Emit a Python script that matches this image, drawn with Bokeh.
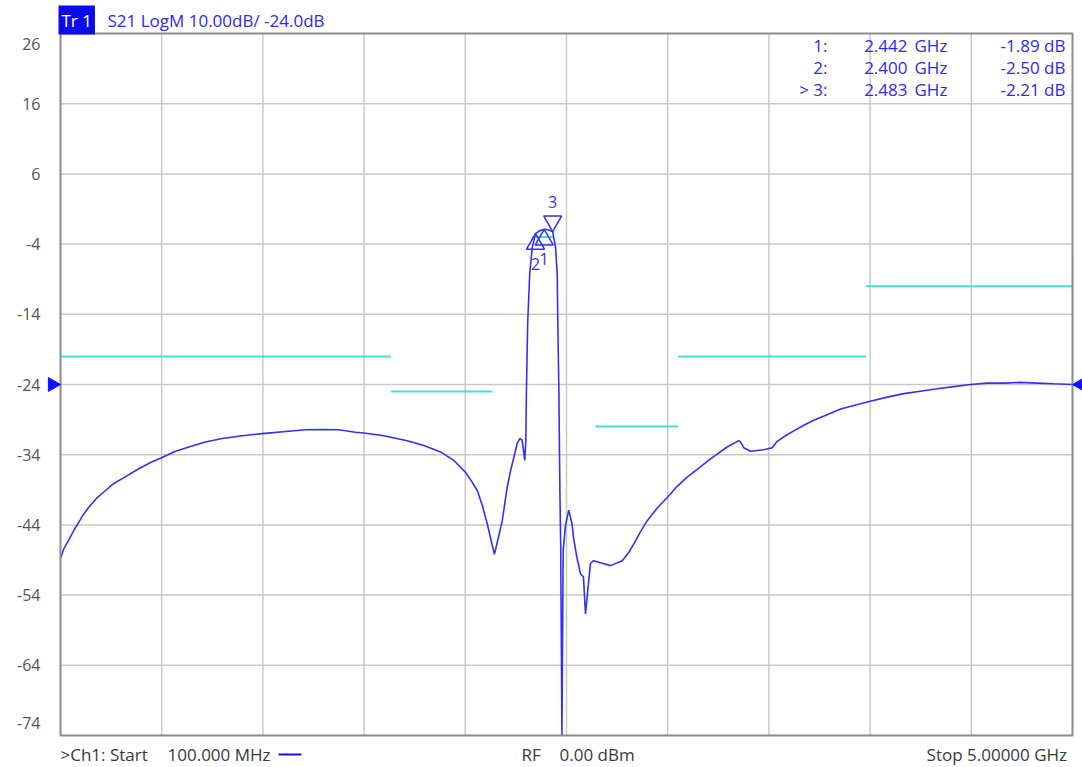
import math
from bokeh.plotting import figure
from bokeh.models import Label, BoxAnnotation, ColumnDataSource
from bokeh.embed import file_html
from bokeh.resources import INLINE
from bokeh.core.properties import value

# ---------------- data ----------------
start_ghz = 0.1
stop_ghz = 5.0
ref_db = -24.0
scale_db = 10.0

freq_ghz = [
    0.100, 0.116, 0.139, 0.164, 0.189, 0.213, 0.237, 0.278, 0.318, 0.358,
    0.399, 0.479, 0.536, 0.592, 0.657, 0.721, 0.802, 0.883, 0.980, 1.077,
    1.205, 1.286, 1.367, 1.448, 1.528, 1.569, 1.666, 1.779, 1.859, 1.940,
    2.004, 2.061, 2.093, 2.118, 2.142, 2.166, 2.185, 2.201, 2.217, 2.239,
    2.263, 2.279, 2.295, 2.311, 2.324, 2.335, 2.348, 2.353, 2.356, 2.362,
    2.372, 2.384, 2.400, 2.420, 2.442, 2.460, 2.483, 2.497, 2.505, 2.508,
    2.513, 2.518, 2.522, 2.528, 2.534, 2.545, 2.561, 2.577, 2.584, 2.600,
    2.618, 2.632, 2.642, 2.653, 2.666, 2.681, 2.715, 2.763, 2.820, 2.852,
    2.876, 2.908, 2.941, 2.989, 3.038, 3.086, 3.134, 3.191, 3.247, 3.328,
    3.384, 3.393, 3.408, 3.441, 3.505, 3.546, 3.570, 3.610, 3.651, 3.699,
    3.747, 3.812, 3.877, 4.006, 4.103, 4.183, 4.264, 4.345, 4.425, 4.506,
    4.587, 4.667, 4.748, 4.829, 4.910, 5.000,
]
s21_db = [
    -48.8, -47.4, -46.2, -44.8, -43.6, -42.4, -41.5, -40.1, -39.1, -38.1,
    -37.4, -36.0, -35.1, -34.4, -33.5, -32.9, -32.2, -31.7, -31.3, -31.0,
    -30.65, -30.45, -30.4, -30.45, -30.8, -30.9, -31.3, -32.0, -32.7, -33.6,
    -34.8, -36.5, -37.9, -39.1, -41.2, -43.8, -46.2, -48.2, -46.2, -43.4,
    -38.6, -36.3, -34.4, -32.4, -31.7, -31.9, -34.8, -32.0, -24.9, -15.3,
    -8.2, -4.5, -2.50, -2.1, -1.89, -1.95, -2.21, -4.5, -8.2, -15.3,
    -24.9, -39.1, -47.2, -95.0, -47.6, -44.1, -41.9, -43.9, -45.8, -48.6,
    -51.0, -51.4, -56.7, -53.3, -49.5, -49.1, -49.4, -49.8, -49.1, -47.9,
    -46.7, -45.0, -43.4, -41.6, -40.1, -38.5, -37.2, -35.9, -34.6, -32.9,
    -32.0, -32.2, -33.0, -33.5, -33.3, -33.0, -32.1, -31.3, -30.6, -29.8,
    -29.1, -28.3, -27.5, -26.5, -25.8, -25.3, -24.95, -24.6, -24.3, -24.0,
    -23.8, -23.8, -23.7, -23.8, -23.9, -24.0,
]

marker_id = ["1", "2", "3"]
marker_freq_ghz = [2.442, 2.400, 2.483]
marker_db = [-1.89, -2.50, -2.21]
active_marker = "3"

limit_start_ghz = [0.1, 1.7, 2.4, 2.69, 3.09, 4.0]
limit_stop_ghz = [1.7, 2.19, 2.483, 3.09, 4.0, 5.0]
limit_db = [-20, -25, -3, -30, -20, -10]

y_tick_values = [26, 16, 6, -4, -14, -24, -34, -44, -54, -64, -74]
y_tick_labels = ["26", "16", "6", "-4", "-14", "-24", "-34", "-44", "-54", "-64", "-74"]

title_tag = "Tr 1"
title_text = "S21 LogM 10.00dB/  -24.0dB"
footer_ch = ">Ch1:  Start"
footer_start = "100.000 MHz"
footer_rf = "RF"
footer_pow = "0.00  dBm"
footer_stop = "Stop  5.00000 GHz"

# ---------------- style / layout (pixels) ----------------
W, H = 1082, 767
BOX_L, BOX_R, BOX_T, BOX_B = 60, 1072, 33, 735
FONT = "Open Sans"
TRACE = "#3232ee"
LIMIT = "#44e0d2"
GRID = "#c9c9c9"
TXT_BLUE = "#2b2bef"
TXT_GRAY = "#3a3a3a"

ymax = ref_db + 5 * scale_db
ymin = ref_db - 5 * scale_db
xpp = (BOX_R - BOX_L) / (stop_ghz - start_ghz)   # px per GHz
ypp = (BOX_B - BOX_T) / (ymax - ymin)            # px per dB
x_range = (start_ghz - BOX_L / xpp, stop_ghz + (W - BOX_R) / xpp)
y_range = (ymin - (H - BOX_B) / ypp, ymax + BOX_T / ypp)

p = figure(width=W, height=H, x_range=x_range, y_range=y_range,
           output_backend="svg", toolbar_location=None, title=None,
           x_axis_location=None, y_axis_location=None, min_border=0)
p.grid.grid_line_color = None
p.outline_line_color = None
p.background_fill_color = "white"
p.border_fill_color = "white"

# graticule: 10 x 10 divisions
x_div = [start_ghz + k * (stop_ghz - start_ghz) / 10 for k in range(1, 10)]
y_div = y_tick_values[1:-1]
p.segment(x0=x_div, y0=[ymin] * len(x_div), x1=x_div, y1=[ymax] * len(x_div),
          line_color=GRID, line_width=1.5)
p.segment(x0=[start_ghz] * len(y_div), y0=y_div, x1=[stop_ghz] * len(y_div), y1=y_div,
          line_color=GRID, line_width=1.5)

# y tick labels (end labels nudged inside like the instrument display)
label_pos = list(y_tick_values)
label_pos[0] = y_tick_values[0] - 10.5 / ypp
label_pos[-1] = y_tick_values[-1] + 13 / ypp
p.text(x=[start_ghz] * len(label_pos), y=label_pos, text=y_tick_labels, x_offset=-20,
       text_align="right", text_baseline="middle", text_color="#555555",
       text_font=value(FONT), text_font_size="16px")

# limit lines
p.segment(x0=limit_start_ghz, y0=limit_db, x1=limit_stop_ghz, y1=limit_db,
          line_color=LIMIT, line_width=2)

# trace (clipped to the display floor like the instrument screen)
s21_shown = [max(v, ymin) for v in s21_db]
p.line(freq_ghz, s21_shown, line_color=TRACE, line_width=1.6)

# outer box
p.quad(left=[start_ghz], right=[stop_ghz], bottom=[ymin], top=[ymax],
       fill_color=None, line_color="#8a8a8a", line_width=2)

# markers
tri_size = 18
apex = tri_size / 3 ** 0.5
mk_y, mk_type, lab_off = [], [], []
for mid, d in zip(marker_id, marker_db):
    if mid == active_marker:
        mk_y.append(d + apex / ypp)
        mk_type.append("inverted_triangle")
        lab_off.append(-30)
    else:
        mk_y.append(d - apex / ypp)
        mk_type.append("triangle")
        lab_off.append(30)
msrc = ColumnDataSource(dict(x=marker_freq_ghz, y=mk_y, m=mk_type, fy=marker_db,
                             t=marker_id, off=lab_off))
p.scatter("x", "y", marker="m", size=tri_size, source=msrc, fill_color=None,
          line_color=TRACE, line_width=1.5)
p.text("x", "fy", text="t", y_offset="off", source=msrc, text_align="center",
       text_baseline="middle", text_color=TRACE, text_font=value(FONT), text_font_size="16px")

# reference level arrows at both edges of the graticule
arrow_size = 14
arrow_apex = arrow_size / 3 ** 0.5
p.scatter(x=[start_ghz - arrow_apex / xpp, stop_ghz + arrow_apex / xpp], y=[ref_db, ref_db],
          marker="triangle", angle=[-math.pi / 2, math.pi / 2], size=arrow_size,
          fill_color="#1010ff", line_color="#1010ff")


def scr_label(x, y_from_top, text, align="left", color=TXT_GRAY, size="17px", **kw):
    p.add_layout(Label(x=x, y=H - y_from_top, x_units="screen", y_units="screen", text=text,
                       text_align=align, text_baseline="middle", text_color=color,
                       text_font=FONT, text_font_size=size, **kw))


# title
scr_label(58, 19.5, title_tag, color="white", background_fill_color="#0b0bea", padding=3)
scr_label(107, 19.5, title_text, color=TXT_BLUE)

# marker readout table
for i, (mid, f, d) in enumerate(zip(marker_id, marker_freq_ghz, marker_db)):
    yy = 45 + 22 * i
    tag = ("> " if mid == active_marker else "") + mid + ":"
    scr_label(827, yy, tag, align="right", color=TXT_BLUE)
    scr_label(907, yy, f"{f:.3f}", align="right", color=TXT_BLUE)
    scr_label(914, yy, "GHz", align="left", color=TXT_BLUE)
    scr_label(1065, yy, f"{d:.2f} dB", align="right", color=TXT_BLUE)

# footer
FOOT_Y = 754
scr_label(60, FOOT_Y, footer_ch)
scr_label(167, FOOT_Y, footer_start)
p.add_layout(BoxAnnotation(left=278, right=301, bottom=H - FOOT_Y - 1, top=H - FOOT_Y + 1,
                           left_units="screen", right_units="screen",
                           bottom_units="screen", top_units="screen",
                           fill_color="#1010ff", fill_alpha=1, line_color=None))
scr_label(521, FOOT_Y, footer_rf)
scr_label(559, FOOT_Y, footer_pow)
scr_label(1071, FOOT_Y, footer_stop, align="right")

open("out.html", "w").write(file_html(p, INLINE))
